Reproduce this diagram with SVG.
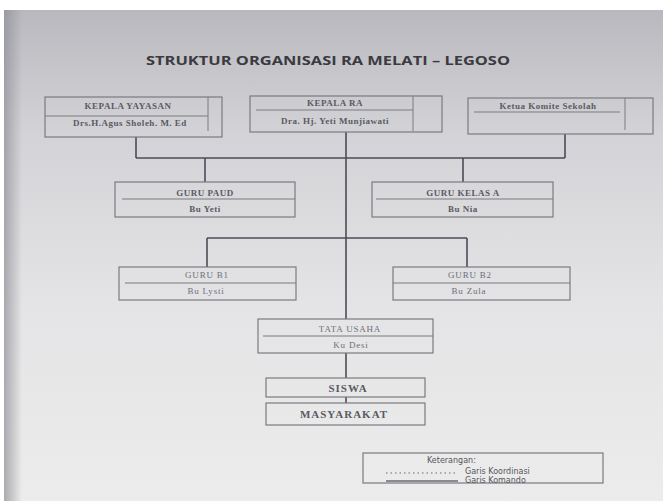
<svg xmlns="http://www.w3.org/2000/svg" width="663" height="501" viewBox="0 0 663 501">
<defs>
<linearGradient id="paper" x1="0" y1="0" x2="0" y2="1">
<stop offset="0" stop-color="#b8b8be"/>
<stop offset="0.25" stop-color="#d3d3d7"/>
<stop offset="0.6" stop-color="#e4e4e6"/>
<stop offset="1" stop-color="#ececec"/>
</linearGradient>
<linearGradient id="leftedge" x1="0" y1="0" x2="1" y2="0">
<stop offset="0" stop-color="#8e8e96" stop-opacity="0.7"/>
<stop offset="1" stop-color="#8e8e96" stop-opacity="0"/>
</linearGradient>
<style>
.box{fill:none;stroke:#7a7a80;stroke-width:1.2}
.div{stroke:#7a7a80;stroke-width:1}
.con{fill:none;stroke:#4c4c58;stroke-width:1.6}
.t{font-family:"Liberation Serif","Times New Roman",serif;font-size:9px;font-weight:bold;fill:#5a5a62;text-anchor:middle;letter-spacing:0.5px}
.tl{font-family:"Liberation Serif","Times New Roman",serif;font-size:9px;fill:#6e6e76;text-anchor:middle;letter-spacing:0.8px}
.tb{font-family:"Liberation Serif","Times New Roman",serif;font-size:11px;font-weight:bold;fill:#5a5a62;text-anchor:middle;letter-spacing:1px}
.title{font-family:"Open Sans","Liberation Sans",sans-serif;font-size:13px;font-weight:bold;fill:#3a3a40}
.leg{font-family:"DejaVu Sans","Liberation Sans",sans-serif;font-size:8px;fill:#55555c}
</style>
</defs>
<rect x="0" y="0" width="663" height="501" fill="#ffffff"/>
<rect x="4" y="10" width="659" height="491" fill="url(#paper)"/>
<rect x="4" y="10" width="18" height="491" fill="url(#leftedge)"/>

<text class="title" x="328" y="65" text-anchor="middle" textLength="364" lengthAdjust="spacingAndGlyphs">STRUKTUR ORGANISASI RA MELATI – LEGOSO</text>

<g id="connectors">
<path class="con" d="M136 137 V158 M565 134 V158 M136 158 H565"/>
<path class="con" d="M205 158 V182 M463 158 V182"/>
<path class="con" d="M346 132 V319"/>
<path class="con" d="M207 238 H467 M207 238 V267 M467 238 V267"/>
<path class="con" d="M346 353 V378 M346 397 V403"/>
</g>

<g id="kepala-yayasan">
<rect class="box" x="45" y="97" width="177" height="40"/>
<line class="div" x1="208" y1="97" x2="208" y2="131"/>
<line class="div" x1="45" y1="116" x2="208" y2="116"/>
<text class="t" x="128" y="109">KEPALA YAYASAN</text>
<text class="t" x="130" y="126" letter-spacing="0.2">Drs.H.Agus Sholeh. M. Ed</text>
</g>

<g id="kepala-ra">
<rect class="box" x="250" y="96" width="192" height="36"/>
<line class="div" x1="413" y1="96" x2="413" y2="131"/>
<line class="div" x1="256" y1="110" x2="413" y2="110"/>
<text class="t" x="335" y="106">KEPALA RA</text>
<text class="t" x="335" y="124">Dra. Hj. Yeti Munjiawati</text>
</g>

<g id="ketua-komite">
<rect class="box" x="468" y="98" width="185" height="36"/>
<line class="div" x1="625" y1="98" x2="625" y2="130"/>
<line class="div" x1="474" y1="112" x2="620" y2="112"/>
<text class="t" x="548" y="109" letter-spacing="0.2">Ketua Komite Sekolah</text>
</g>

<g id="guru-paud">
<rect class="box" x="115" y="182" width="180" height="35"/>
<line class="div" x1="122" y1="199" x2="295" y2="199"/>
<text class="t" x="205" y="196">GURU PAUD</text>
<text class="t" x="205" y="212">Bu Yeti</text>
</g>

<g id="guru-kelas-a">
<rect class="box" x="372" y="182" width="181" height="35"/>
<line class="div" x1="376" y1="199" x2="553" y2="199"/>
<text class="t" x="463" y="196">GURU KELAS A</text>
<text class="t" x="463" y="212">Bu Nia</text>
</g>

<g id="guru-b1">
<rect class="box" x="119" y="267" width="177" height="33"/>
<line class="div" x1="125" y1="283" x2="296" y2="283"/>
<text class="tl" x="207" y="278">GURU B1</text>
<text class="tl" x="206" y="294">Bu Lysti</text>
</g>

<g id="guru-b2">
<rect class="box" x="393" y="267" width="177" height="33"/>
<line class="div" x1="393" y1="283" x2="570" y2="283"/>
<text class="tl" x="470" y="278">GURU B2</text>
<text class="tl" x="469" y="294">Bu Zula</text>
</g>

<g id="tata-usaha">
<rect class="box" x="258" y="319" width="175" height="34"/>
<line class="div" x1="263" y1="336" x2="433" y2="336"/>
<text class="tl" x="350" y="332">TATA USAHA</text>
<text class="tl" x="351" y="348">Ku Desi</text>
</g>

<g id="siswa">
<rect class="box" x="266" y="378" width="159" height="19"/>
<text class="tb" x="348" y="392">SISWA</text>
</g>

<g id="masyarakat">
<rect class="box" x="266" y="403" width="159" height="22"/>
<text class="tb" x="344" y="418">MASYARAKAT</text>
</g>

<g id="keterangan">
<rect class="box" x="363" y="453" width="240" height="30"/>
<text class="leg" x="427" y="463">Keterangan:</text>
<line x1="386" y1="473" x2="457" y2="473" stroke="#6a6a70" stroke-width="1" stroke-dasharray="1.5 3"/>
<text class="leg" x="465" y="474">Garis Koordinasi</text>
<line x1="386" y1="481" x2="458" y2="481" stroke="#8a8a90" stroke-width="2"/>
<text class="leg" x="465" y="483">Garis Komando</text>
</g>
</svg>
